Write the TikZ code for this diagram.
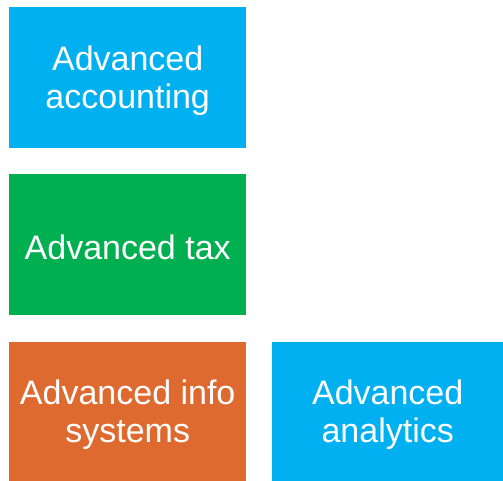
\documentclass[tikz,border=0pt]{standalone}
\usepackage{fontspec}
\setmainfont{Liberation Sans}
\usetikzlibrary{positioning}
\definecolor{skyblue}{HTML}{00B0F0}
\definecolor{leafgreen}{HTML}{00B050}
\definecolor{rustorange}{HTML}{DF6A2F}
\begin{document}
\begin{tikzpicture}[x=1pt,y=-1pt]
\tikzstyle{course}=[anchor=north west, inner sep=0pt]
\tikzstyle{caption}=[inner sep=0pt, yshift=-3pt, text=white, align=center,
  font=\fontsize{34}{37.5}\selectfont]
\useasboundingbox (0,0) rectangle (503,481);
\node [course, fill=skyblue, minimum width=237pt, minimum height=141pt] (acct) at (9,7) {};
\node [course, fill=leafgreen, minimum width=237pt, minimum height=141pt] (tax) at (9,174) {};
\node [course, fill=rustorange, minimum width=237pt, minimum height=139pt] (info) at (9,342) {};
\node [course, fill=skyblue, minimum width=231pt, minimum height=139pt] (anly) at (272,342) {};
\node [caption] (acct text) at (acct.center) {Advanced\\accounting};
\node [caption] (tax text) at (tax.center) {Advanced tax};
\node [caption] (info text) at (info.center) {Advanced info\\systems};
\node [caption] (anly text) at (anly.center) {Advanced\\analytics};
\end{tikzpicture}
\end{document}
